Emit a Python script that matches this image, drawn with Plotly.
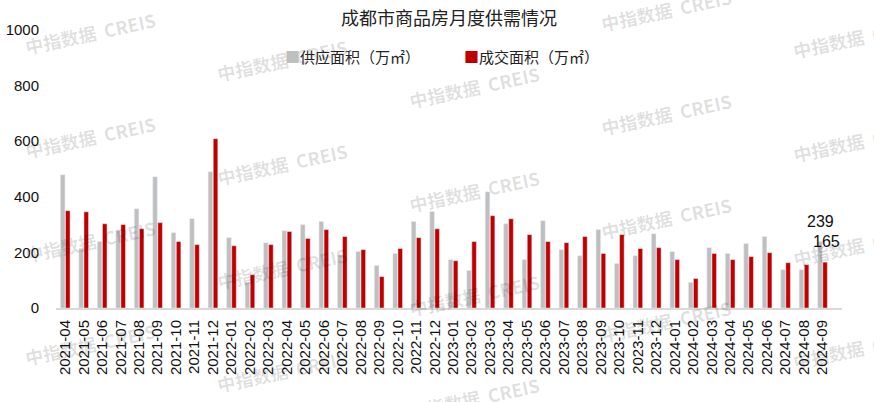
import plotly.graph_objects as go

months = ["2021-04","2021-05","2021-06","2021-07","2021-08","2021-09","2021-10","2021-11","2021-12",
          "2022-01","2022-02","2022-03","2022-04","2022-05","2022-06","2022-07","2022-08","2022-09",
          "2022-10","2022-11","2022-12","2023-01","2023-02","2023-03","2023-04","2023-05","2023-06",
          "2023-07","2023-08","2023-09","2023-10","2023-11","2023-12","2024-01","2024-02","2024-03",
          "2024-04","2024-05","2024-06","2024-07","2024-08","2024-09"]
supply = [479,214,239,278,357,472,271,321,490,
          253,92,235,278,300,311,190,203,153,
          196,311,347,174,135,418,303,174,314,
          210,188,282,160,188,267,203,92,217,
          196,232,257,138,138,239]
deal = [350,346,303,300,285,307,239,228,609,
        224,120,228,275,250,282,257,210,113,
        214,253,285,170,239,332,321,264,239,
        235,257,196,264,214,217,174,106,196,
        174,185,199,163,156,165]
y_ticks = [0,200,400,600,800,1000]
title_text = "成都市商品房月度供需情况"
name_supply = "供应面积（万㎡）"
name_deal = "成交面积（万㎡）"
color_supply = "#bfbfbf"
color_deal = "#c00000"
watermark = "中指数据  CREIS"

W, H = 874, 402
ML, MR, MT, MB = 56, 32, 30, 93.5
PW, PH = W - ML - MR, H - MT - MB

def px2paper(px, py):
    return (px - ML) / PW, (H - MB - py) / PH

fig = go.Figure()
fig.add_trace(go.Bar(x=months, y=supply, name=name_supply, marker_color=color_supply))
fig.add_trace(go.Bar(x=months, y=deal, name=name_deal, marker_color=color_deal))

annotations = []
# watermarks
for i, cx in enumerate([90, 282, 474, 666, 858]):
    base = 33 + 27 * i
    for k in range(-1, 4):
        cy = base + 104 * k
        if cy < -12 or cy > 412:
            continue
        xp, yp = px2paper(cx, cy)
        annotations.append(dict(x=xp, y=yp, xref="paper", yref="paper", text="<b>" + watermark + "</b>",
                                showarrow=False, textangle=-12, xanchor="center", yanchor="middle",
                                font=dict(size=18, color="rgba(0,0,0,0.13)",
                                          family="Noto Sans CJK SC, sans-serif")))

# legend built as text entries
for name, col, sx in [(name_supply, color_supply, 283), (name_deal, color_deal, 462)]:
    xp, yp = px2paper(sx, 57)
    annotations.append(dict(x=xp, y=yp, xref="paper", yref="paper", showarrow=False,
                            xanchor="left", yanchor="middle",
                            text='<span style="color:%s">■</span>%s' % (col, name),
                            font=dict(size=15, color="#222", family="Noto Sans CJK SC, sans-serif")))

# data labels for last month
annotations.append(dict(x=months[-1], y=supply[-1], text=str(supply[-1]), showarrow=False,
                        xref="x", yref="y", yanchor="bottom", xshift=-2, yshift=10,
                        font=dict(size=16, color="#111", family="Liberation Sans, Arial")))
annotations.append(dict(x=months[-1], y=deal[-1], text=str(deal[-1]), showarrow=False,
                        xref="x", yref="y", yanchor="bottom", xshift=4, yshift=10,
                        font=dict(size=16, color="#111", family="Liberation Sans, Arial")))

fig.update_layout(
    width=W, height=H,
    margin=dict(l=ML, r=MR, t=MT, b=MB, autoexpand=False),
    paper_bgcolor="white", plot_bgcolor="white",
    barmode="group", bargap=0.45, bargroupgap=0.1,
    title=dict(text=title_text, x=449 / W, xanchor="center", y=1 - 19 / H, yanchor="middle",
               font=dict(size=18, color="#222", family="Noto Sans CJK SC, sans-serif")),
    showlegend=False,
    annotations=annotations,
)
fig.update_xaxes(type="category", tickangle=-90, showline=True, linecolor="#d9d9d9", linewidth=2,
                 showgrid=False, ticks="", automargin=False,
                 tickfont=dict(size=15, color="#111", family="Liberation Sans, Arial"),
                 ticklabelstandoff=4)
fig.update_yaxes(range=[0, 1000], tickvals=y_ticks, showgrid=False, zeroline=False, showline=False, ticks="",
                 automargin=False,
                 tickfont=dict(size=15, color="#111", family="Liberation Sans, Arial"), ticklabelstandoff=16)

fig.write_html("out.html", config={"displayModeBar": False},
               post_script="document.body.style.margin='0px';document.body.style.overflow='hidden';")
